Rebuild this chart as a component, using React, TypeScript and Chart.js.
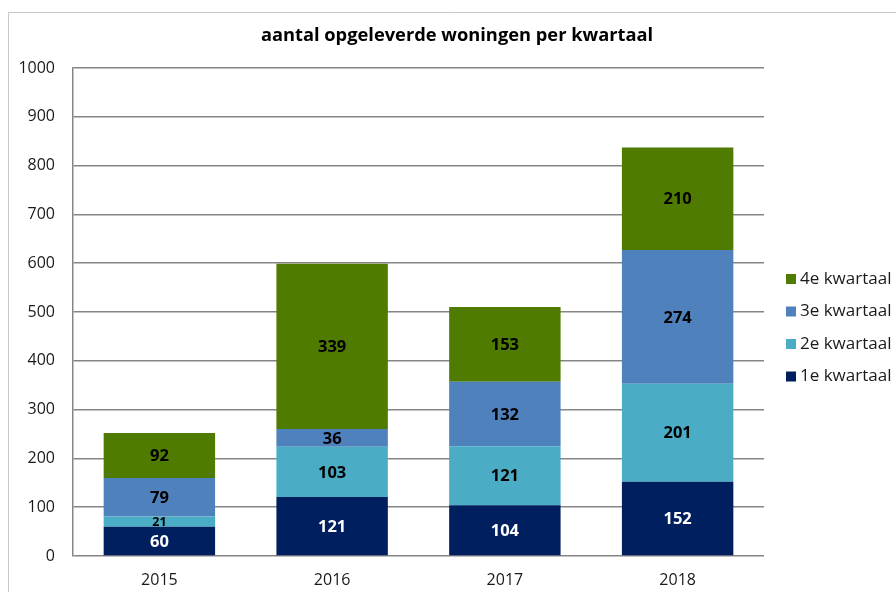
import React, { useEffect, useRef } from "react";
import { Chart, registerables } from "chart.js";

Chart.register(...registerables);

const years = ["2015", "2016", "2017", "2018"];
const q1 = [60, 121, 104, 152];
const q2 = [21, 103, 121, 201];
const q3 = [79, 36, 132, 274];
const q4 = [92, 339, 153, 210];
const seriesNames = ["1e kwartaal", "2e kwartaal", "3e kwartaal", "4e kwartaal"];
const seriesColors = ["#001F5F", "#4BACC6", "#4F81BD", "#4E7B00"];
const labelColors = ["#FFFFFF", "#000000", "#000000", "#000000"];
const titleText = "aantal opgeleverde woningen per kwartaal";
const yMax = 1000;
const yStep = 100;

const FONT = "'Open Sans', 'Liberation Sans', sans-serif";

const decorPlugin = {
  id: "decor",
  beforeDraw(chart: any) {
    const ctx = chart.ctx;
    ctx.save();
    ctx.fillStyle = "#ffffff";
    ctx.fillRect(0, 0, chart.width, chart.height);
    ctx.strokeStyle = "#c8c8c8";
    ctx.lineWidth = 1;
    ctx.beginPath();
    ctx.moveTo(8.5, chart.height);
    ctx.lineTo(8.5, 12.5);
    ctx.lineTo(chart.width, 12.5);
    ctx.stroke();
    ctx.restore();
  },
  afterDatasetsDraw(chart: any) {
    const ctx = chart.ctx;
    ctx.save();
    ctx.textAlign = "center";
    ctx.textBaseline = "middle";
    chart.data.datasets.forEach((ds: any, di: number) => {
      const meta = chart.getDatasetMeta(di);
      meta.data.forEach((bar: any, i: number) => {
        const h = Math.abs(bar.base - bar.y);
        const size = h < 14 ? 12.5 : 16.5;
        ctx.font = `bold ${size}px ${FONT}`;
        ctx.fillStyle = labelColors[di];
        ctx.fillText(String(ds.data[i]), bar.x, (bar.y + bar.base) / 2 + 1);
      });
    });
    ctx.restore();
  },
  afterDraw(chart: any) {
    const ctx = chart.ctx;
    ctx.save();
    // title
    ctx.font = `bold 18.3px ${FONT}`;
    ctx.fillStyle = "#000000";
    ctx.textAlign = "center";
    ctx.textBaseline = "middle";
    ctx.fillText(titleText, 457, 36);
    // legend (reverse order)
    const centers = [279, 311.5, 344, 376.5];
    ctx.font = `17px ${FONT}`;
    ctx.textAlign = "left";
    for (let k = 0; k < 4; k++) {
      const di = 3 - k;
      const cy = centers[k];
      ctx.fillStyle = seriesColors[di];
      ctx.fillRect(786, cy - 5, 10, 10);
      ctx.fillStyle = "#1a1a1a";
      ctx.fillText(seriesNames[di], 800, cy);
    }
    ctx.restore();
  },
};

export default function App() {
  const ref = useRef<HTMLCanvasElement | null>(null);
  useEffect(() => {
    if (!ref.current) return;
    const series = [q1, q2, q3, q4];
    const chart = new Chart(ref.current, {
      type: "bar",
      data: {
        labels: years,
        datasets: series.map((d, i) => ({
          label: seriesNames[i],
          data: d,
          backgroundColor: seriesColors[i],
          borderWidth: 0,
          categoryPercentage: 1,
          barPercentage: 0.645,
        })),
      },
      options: {
        animation: false,
        responsive: true,
        maintainAspectRatio: false,
        layout: { padding: { left: 0, right: 132, top: 68, bottom: 0 } },
        plugins: {
          legend: { display: false },
          title: { display: false },
          tooltip: { enabled: false },
        },
        scales: {
          x: {
            stacked: true,
            grid: { display: false, drawTicks: false },
            border: { display: false },
            ticks: {
              padding: 15,
              color: "#1a1a1a",
              font: { family: FONT, size: 16 },
            },
            afterFit(scale: any) {
              scale.height = 36;
            },
          },
          y: {
            stacked: true,
            min: 0,
            max: yMax,
            grid: { color: "#858585", lineWidth: 1.5, drawTicks: false },
            border: { display: true, color: "#858585", width: 1.5 },
            ticks: {
              stepSize: yStep,
              padding: 18,
              color: "#1a1a1a",
              font: { family: FONT, size: 16 },
              callback: (v: any) => String(v),
            },
            afterFit(scale: any) {
              scale.width = 73;
            },
          },
        },
      },
      plugins: [decorPlugin],
    });
    return () => chart.destroy();
  }, []);
  return (
    <div style={{ position: "fixed", left: 0, top: 0, width: 896, height: 592 }}>
      <canvas ref={ref} />
    </div>
  );
}
